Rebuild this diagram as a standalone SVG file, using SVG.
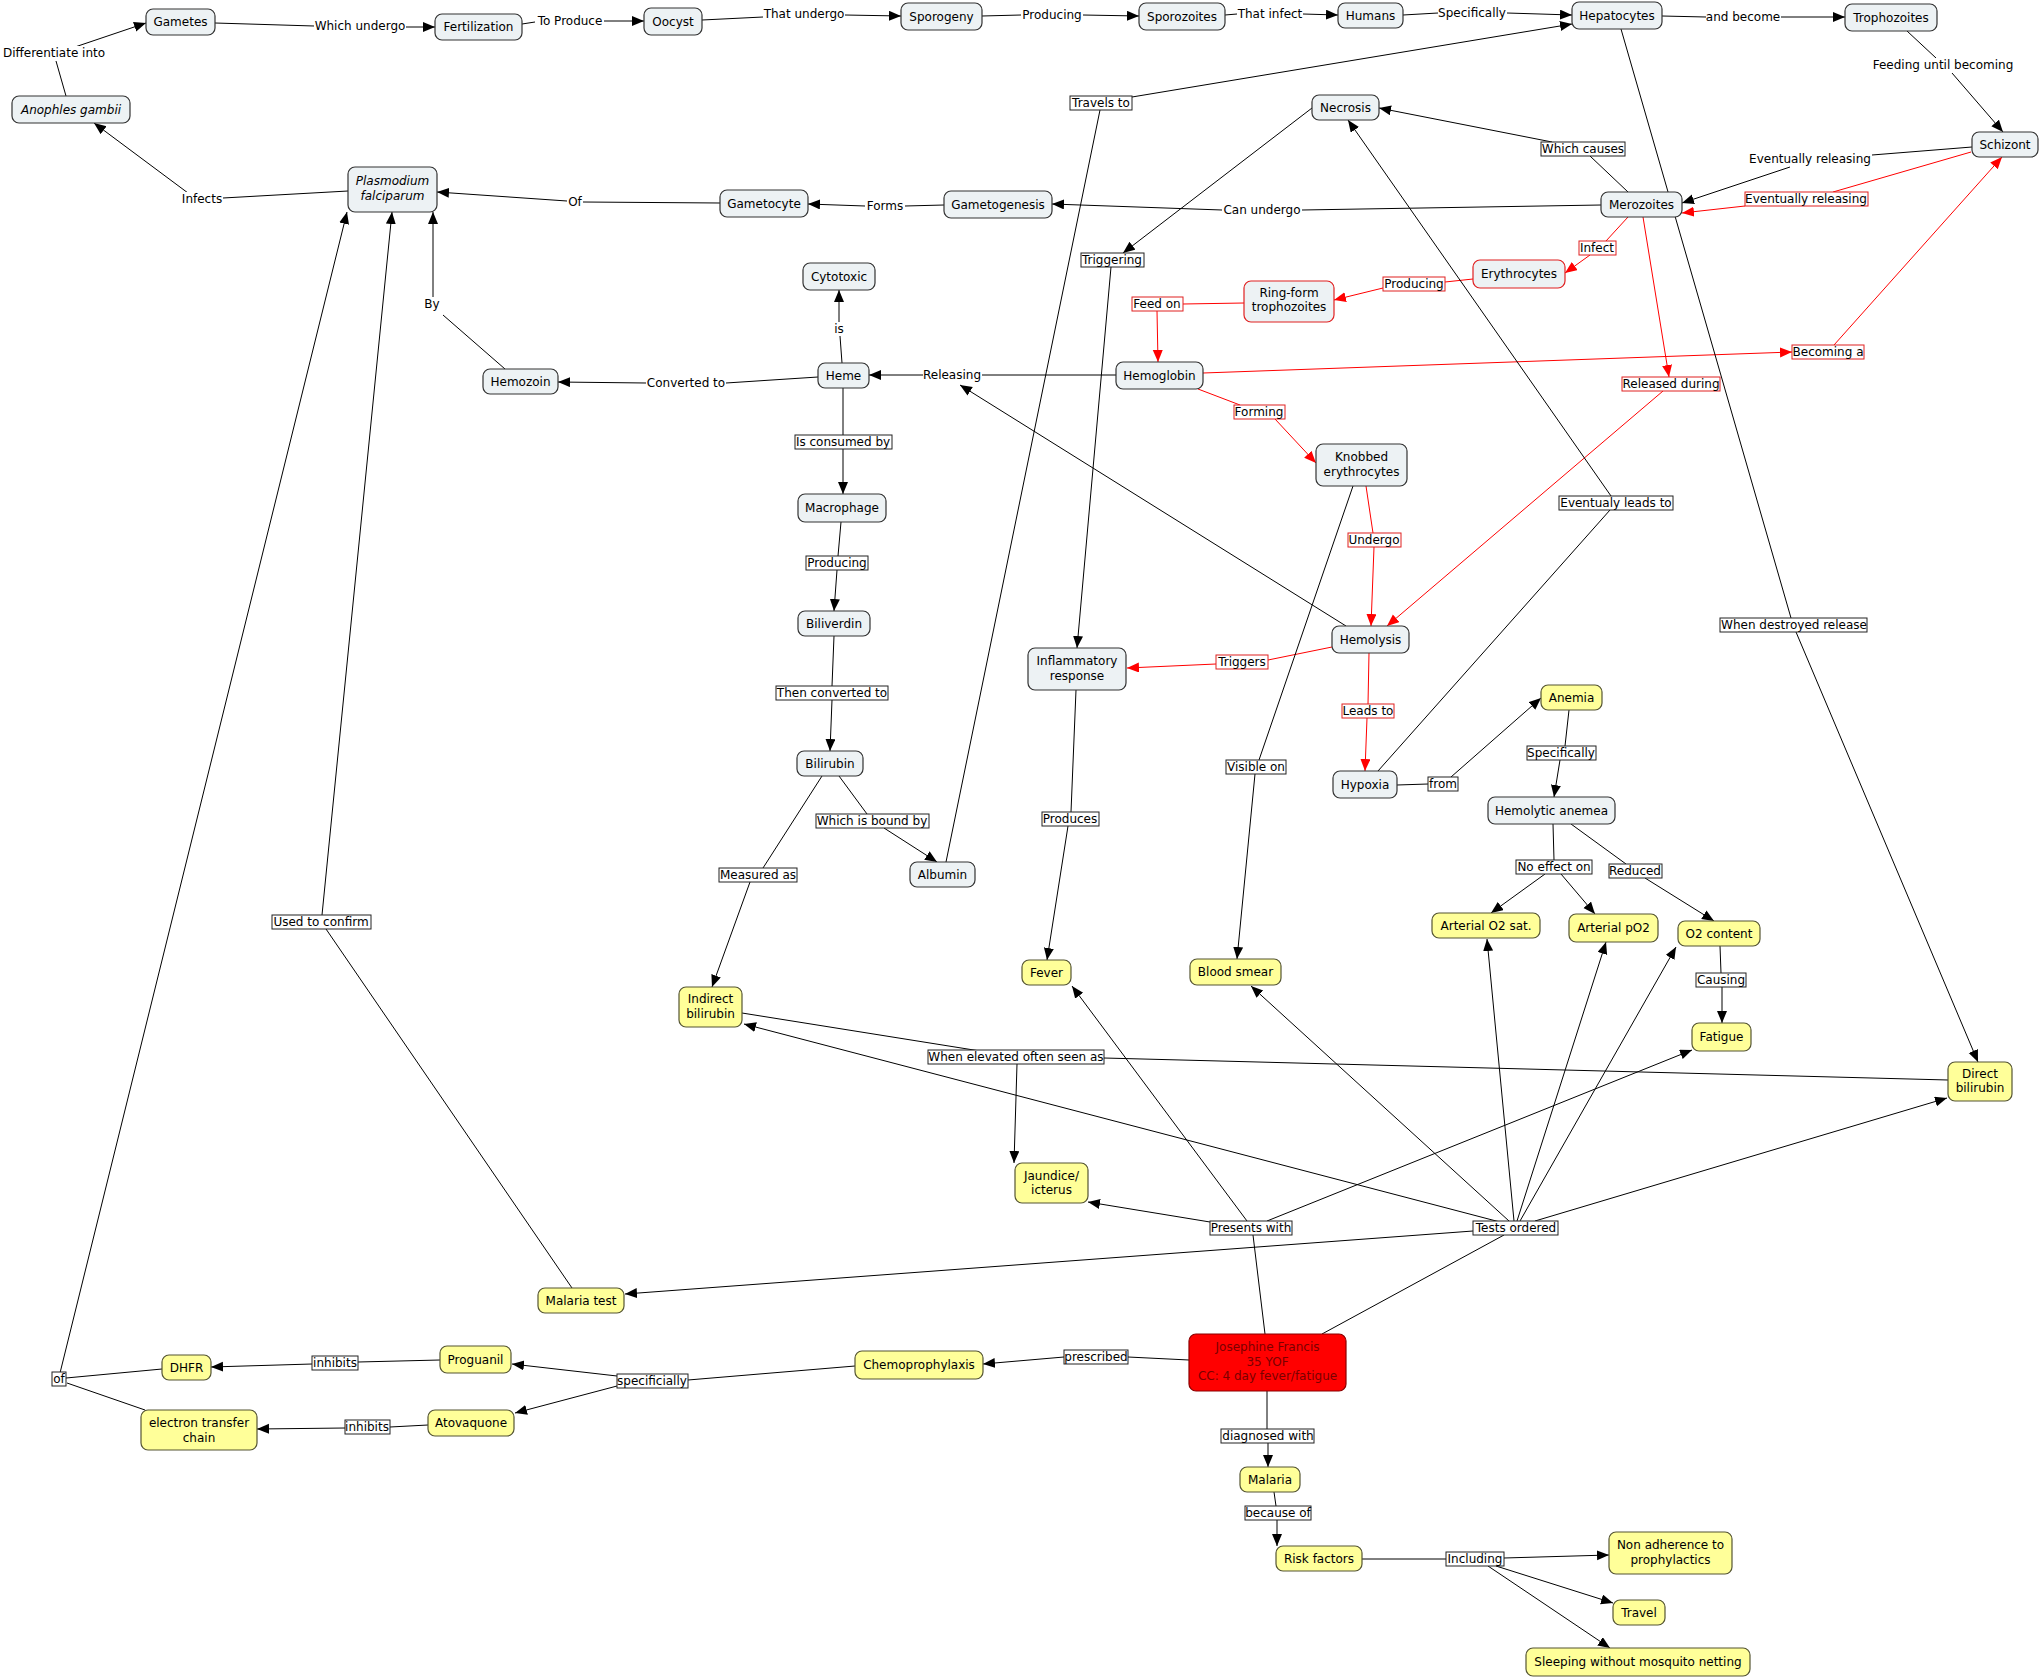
<svg xmlns="http://www.w3.org/2000/svg" width="2041" height="1677" viewBox="0 0 2041 1677">
<style>
text{font-family:"DejaVu Sans","Verdana",sans-serif;font-size:12px;fill:#000;text-anchor:middle}
.n rect{fill:#edf2f4;stroke:#333;stroke-width:1.2}
.rb rect{stroke:#e02020}
.y rect{fill:#ffff99;stroke:#555533;stroke-width:1.2}
.p rect{fill:#ff0000;stroke:#8a0000;stroke-width:1.2}
.p text{fill:#7a0000}
.it text{font-style:italic}
.e{stroke:#000;stroke-width:1;fill:none}
.r{stroke:#ff0000;stroke-width:1;fill:none}
.a{marker-end:url(#ab)}
.ar{marker-end:url(#ar)}
.lp rect{fill:#fff;stroke:none}
.lb rect{fill:#fff;stroke:#222;stroke-width:1}
.lr rect{fill:#fff;stroke:#e02020;stroke-width:1}
</style>
<defs>
<marker id="ab" markerUnits="userSpaceOnUse" markerWidth="13" markerHeight="11" refX="12" refY="5" orient="auto"><path d="M0,0 L12,5 L0,10 z" fill="#000"/></marker>
<marker id="ar" markerUnits="userSpaceOnUse" markerWidth="13" markerHeight="11" refX="12" refY="5" orient="auto"><path d="M0,0 L12,5 L0,10 z" fill="#ff0000"/></marker>
</defs>
<rect width="2041" height="1677" fill="#fff"/>

<g id="connectors">
<line class="e" x1="66" y1="96" x2="56" y2="61"/>
<line class="e a" x1="72" y1="48" x2="146" y2="23"/>
<line class="e" x1="215" y1="23" x2="314" y2="26"/>
<line class="e a" x1="406" y1="27" x2="435" y2="27"/>
<line class="e" x1="522" y1="24" x2="535" y2="22"/>
<line class="e a" x1="604" y1="21" x2="644" y2="21"/>
<line class="e" x1="702" y1="20" x2="763" y2="17"/>
<line class="e a" x1="845" y1="15" x2="901" y2="16"/>
<line class="e" x1="982" y1="16" x2="1021" y2="15"/>
<line class="e a" x1="1083" y1="15" x2="1139" y2="16"/>
<line class="e" x1="1225" y1="15" x2="1237" y2="14"/>
<line class="e a" x1="1303" y1="14" x2="1338" y2="15"/>
<line class="e" x1="1403" y1="15" x2="1438" y2="13"/>
<line class="e a" x1="1507" y1="13" x2="1572" y2="15"/>
<line class="e" x1="1662" y1="16" x2="1706" y2="17"/>
<line class="e a" x1="1781" y1="17" x2="1845" y2="17"/>
<line class="e" x1="1907" y1="31" x2="1936" y2="58"/>
<line class="e a" x1="1952" y1="73" x2="2003" y2="132"/>
<line class="e" x1="1972" y1="147" x2="1872" y2="155"/>
<line class="e a" x1="1790" y1="167" x2="1682" y2="203"/>
<line class="r" x1="1971" y1="152" x2="1833" y2="192"/>
<line class="r ar" x1="1745" y1="206" x2="1682" y2="213"/>
<line class="e" x1="1628" y1="192" x2="1590" y2="156"/>
<line class="e a" x1="1552" y1="142" x2="1379" y2="108"/>
<line class="e" x1="1601" y1="205" x2="1302" y2="210"/>
<line class="e a" x1="1222" y1="210" x2="1052" y2="204"/>
<line class="e" x1="944" y1="205" x2="905" y2="206"/>
<line class="e a" x1="865" y1="206" x2="808" y2="204"/>
<line class="e" x1="720" y1="203" x2="583" y2="202"/>
<line class="e a" x1="567" y1="201" x2="437" y2="192"/>
<line class="e" x1="348" y1="191" x2="223" y2="198"/>
<line class="e a" x1="188" y1="193" x2="94" y2="123"/>
<line class="e" x1="505" y1="369" x2="443" y2="315"/>
<line class="e a" x1="433" y1="297" x2="433" y2="212"/>
<line class="e" x1="818" y1="377" x2="726" y2="383"/>
<line class="e a" x1="646" y1="383" x2="558" y2="382"/>
<line class="e" x1="842" y1="363" x2="840" y2="336"/>
<line class="e a" x1="839" y1="322" x2="839" y2="290"/>
<line class="e" x1="1116" y1="375" x2="982" y2="375"/>
<line class="e a" x1="923" y1="375" x2="869" y2="375"/>
<line class="e a" x1="1346" y1="626" x2="960" y2="385"/>
<line class="e" x1="843" y1="388" x2="843" y2="435"/>
<line class="e a" x1="843" y1="449" x2="843" y2="494"/>
<line class="e" x1="841" y1="522" x2="838" y2="556"/>
<line class="e a" x1="837" y1="570" x2="834" y2="611"/>
<line class="e" x1="834" y1="636" x2="832" y2="686"/>
<line class="e a" x1="832" y1="700" x2="830" y2="751"/>
<line class="e" x1="839" y1="776" x2="867" y2="814"/>
<line class="e a" x1="884" y1="828" x2="937" y2="862"/>
<line class="e" x1="822" y1="776" x2="763" y2="868"/>
<line class="e a" x1="750" y1="882" x2="712" y2="987"/>
<line class="e" x1="946" y1="862" x2="1100" y2="110"/>
<line class="e a" x1="1132" y1="97" x2="1572" y2="24"/>
<line class="e a" x1="1312" y1="108" x2="1123" y2="253"/>
<line class="e a" x1="1111" y1="267" x2="1077" y2="648"/>
<line class="e" x1="1076" y1="690" x2="1071" y2="812"/>
<line class="e a" x1="1068" y1="826" x2="1047" y2="960"/>
<line class="r" x1="1473" y1="279" x2="1445" y2="282"/>
<line class="r ar" x1="1383" y1="288" x2="1334" y2="300"/>
<line class="r" x1="1244" y1="303" x2="1183" y2="304"/>
<line class="r ar" x1="1157" y1="311" x2="1158" y2="362"/>
<line class="r" x1="1628" y1="217" x2="1606" y2="241"/>
<line class="r ar" x1="1590" y1="255" x2="1565" y2="273"/>
<line class="r ar" x1="1643" y1="217" x2="1669" y2="377"/>
<line class="r ar" x1="1663" y1="391" x2="1387" y2="626"/>
<line class="r ar" x1="1203" y1="373" x2="1792" y2="352"/>
<line class="r ar" x1="1834" y1="345" x2="2002" y2="157"/>
<line class="r" x1="1198" y1="389" x2="1240" y2="405"/>
<line class="r ar" x1="1275" y1="419" x2="1316" y2="463"/>
<line class="r" x1="1366" y1="486" x2="1373" y2="533"/>
<line class="r ar" x1="1374" y1="547" x2="1371" y2="626"/>
<line class="r" x1="1332" y1="647" x2="1268" y2="660"/>
<line class="r ar" x1="1216" y1="664" x2="1127" y2="668"/>
<line class="r" x1="1369" y1="653" x2="1368" y2="704"/>
<line class="r ar" x1="1367" y1="718" x2="1365" y2="771"/>
<line class="e" x1="1353" y1="486" x2="1259" y2="760"/>
<line class="e a" x1="1255" y1="774" x2="1237" y2="959"/>
<line class="e" x1="1378" y1="771" x2="1610" y2="510"/>
<line class="e a" x1="1611" y1="496" x2="1348" y2="120"/>
<line class="e" x1="1397" y1="785" x2="1428" y2="784"/>
<line class="e a" x1="1451" y1="777" x2="1541" y2="698"/>
<line class="e" x1="1569" y1="710" x2="1565" y2="746"/>
<line class="e a" x1="1560" y1="760" x2="1554" y2="797"/>
<line class="e" x1="1553" y1="824" x2="1554" y2="860"/>
<line class="e a" x1="1545" y1="874" x2="1491" y2="913"/>
<line class="e a" x1="1561" y1="874" x2="1595" y2="914"/>
<line class="e" x1="1571" y1="824" x2="1626" y2="864"/>
<line class="e a" x1="1645" y1="878" x2="1714" y2="921"/>
<line class="e" x1="1720" y1="946" x2="1721" y2="973"/>
<line class="e a" x1="1722" y1="987" x2="1722" y2="1023"/>
<line class="e" x1="1621" y1="29" x2="1791" y2="618"/>
<line class="e a" x1="1796" y1="632" x2="1978" y2="1062"/>
<line class="e" x1="1948" y1="1080" x2="1104" y2="1058"/>
<line class="e" x1="742" y1="1013" x2="980" y2="1051"/>
<line class="e a" x1="1017" y1="1064" x2="1014" y2="1163"/>
<line class="e" x1="1265" y1="1334" x2="1253" y2="1235"/>
<line class="e a" x1="1210" y1="1222" x2="1088" y2="1202"/>
<line class="e a" x1="1247" y1="1221" x2="1072" y2="986"/>
<line class="e a" x1="1267" y1="1221" x2="1692" y2="1050"/>
<line class="e" x1="1322" y1="1334" x2="1504" y2="1235"/>
<line class="e a" x1="1514" y1="1221" x2="1487" y2="939"/>
<line class="e a" x1="1517" y1="1221" x2="1606" y2="942"/>
<line class="e a" x1="1520" y1="1221" x2="1676" y2="947"/>
<line class="e a" x1="1535" y1="1221" x2="1947" y2="1098"/>
<line class="e a" x1="1509" y1="1221" x2="1251" y2="986"/>
<line class="e a" x1="1500" y1="1222" x2="744" y2="1024"/>
<line class="e a" x1="1473" y1="1231" x2="625" y2="1294"/>
<line class="e" x1="572" y1="1288" x2="326" y2="929"/>
<line class="e a" x1="322" y1="915" x2="392" y2="212"/>
<line class="e a" x1="60" y1="1373" x2="347" y2="212"/>
<line class="e" x1="162" y1="1369" x2="66" y2="1378"/>
<line class="e" x1="145" y1="1410" x2="67" y2="1383"/>
<line class="e" x1="440" y1="1360" x2="358" y2="1362"/>
<line class="e a" x1="312" y1="1364" x2="211" y2="1367"/>
<line class="e" x1="428" y1="1425" x2="390" y2="1427"/>
<line class="e a" x1="345" y1="1428" x2="257" y2="1429"/>
<line class="e" x1="855" y1="1366" x2="688" y2="1380"/>
<line class="e a" x1="617" y1="1376" x2="512" y2="1364"/>
<line class="e a" x1="617" y1="1386" x2="515" y2="1413"/>
<line class="e" x1="1189" y1="1360" x2="1128" y2="1357"/>
<line class="e a" x1="1064" y1="1357" x2="983" y2="1364"/>
<line class="e" x1="1267" y1="1391" x2="1267" y2="1429"/>
<line class="e a" x1="1268" y1="1443" x2="1268" y2="1467"/>
<line class="e" x1="1274" y1="1492" x2="1276" y2="1506"/>
<line class="e a" x1="1277" y1="1520" x2="1277" y2="1546"/>
<line class="e" x1="1362" y1="1559" x2="1446" y2="1559"/>
<line class="e a" x1="1504" y1="1558" x2="1609" y2="1555"/>
<line class="e a" x1="1496" y1="1566" x2="1613" y2="1603"/>
<line class="e a" x1="1488" y1="1566" x2="1610" y2="1648"/>
</g>

<g id="link-labels">
<g class="lp"><rect x="3" y="46" width="102" height="14"/><text x="54" y="57">Differentiate into</text></g>
<g class="lp"><rect x="314" y="19" width="92" height="14"/><text x="360" y="30">Which undergo</text></g>
<g class="lp"><rect x="535" y="14" width="69" height="14"/><text x="570" y="25">To Produce</text></g>
<g class="lp"><rect x="763" y="7" width="82" height="14"/><text x="804" y="18">That undergo</text></g>
<g class="lp"><rect x="1021" y="8" width="62" height="14"/><text x="1052" y="19">Producing</text></g>
<g class="lp"><rect x="1237" y="7" width="66" height="14"/><text x="1270" y="18">That infect</text></g>
<g class="lp"><rect x="1438" y="6" width="69" height="14"/><text x="1472" y="17">Specifically</text></g>
<g class="lp"><rect x="1706" y="10" width="75" height="14"/><text x="1743" y="21">and become</text></g>
<g class="lp"><rect x="1873" y="58" width="141" height="14"/><text x="1943" y="69">Feeding until becoming</text></g>
<g class="lp"><rect x="1749" y="152" width="123" height="14"/><text x="1810" y="163">Eventually releasing</text></g>
<g class="lp"><rect x="181" y="192" width="42" height="14"/><text x="202" y="203">Infects</text></g>
<g class="lp"><rect x="567" y="195" width="16" height="14"/><text x="575" y="206">Of</text></g>
<g class="lp"><rect x="865" y="199" width="40" height="14"/><text x="885" y="210">Forms</text></g>
<g class="lp"><rect x="424" y="297" width="18" height="14"/><text x="432" y="308">By</text></g>
<g class="lp"><rect x="1222" y="203" width="80" height="14"/><text x="1262" y="214">Can undergo</text></g>
<g class="lp"><rect x="834" y="322" width="10" height="14"/><text x="839" y="333">is</text></g>
<g class="lp"><rect x="646" y="376" width="80" height="14"/><text x="686" y="387">Converted to</text></g>
<g class="lp"><rect x="923" y="368" width="59" height="14"/><text x="952" y="379">Releasing</text></g>

<g class="lb"><rect x="1070" y="96" width="62" height="14"/><text x="1101" y="107">Travels to</text></g>
<g class="lb"><rect x="1541" y="142" width="84" height="14"/><text x="1583" y="153">Which causes</text></g>
<g class="lb"><rect x="1081" y="253" width="63" height="14"/><text x="1112" y="264">Triggering</text></g>
<g class="lb"><rect x="1559" y="496" width="114" height="14"/><text x="1616" y="507">Eventualy leads to</text></g>
<g class="lb"><rect x="795" y="435" width="97" height="14"/><text x="843" y="446">Is consumed by</text></g>
<g class="lb"><rect x="806" y="556" width="62" height="14"/><text x="837" y="567">Producing</text></g>
<g class="lb"><rect x="776" y="686" width="112" height="14"/><text x="832" y="697">Then converted to</text></g>
<g class="lb"><rect x="816" y="814" width="113" height="14"/><text x="872" y="825">Which is bound by</text></g>
<g class="lb"><rect x="719" y="868" width="78" height="14"/><text x="758" y="879">Measured as</text></g>
<g class="lb"><rect x="1042" y="812" width="57" height="14"/><text x="1070" y="823">Produces</text></g>
<g class="lb"><rect x="1226" y="760" width="60" height="14"/><text x="1256" y="771">Visible on</text></g>
<g class="lb"><rect x="1720" y="618" width="147" height="14"/><text x="1794" y="629">When destroyed release</text></g>
<g class="lb"><rect x="1428" y="777" width="30" height="14"/><text x="1443" y="788">from</text></g>
<g class="lb"><rect x="1527" y="746" width="69" height="14"/><text x="1561" y="757">Specifically</text></g>
<g class="lb"><rect x="1516" y="860" width="76" height="14"/><text x="1554" y="871">No effect on</text></g>
<g class="lb"><rect x="1609" y="864" width="53" height="14"/><text x="1635" y="875">Reduced</text></g>
<g class="lb"><rect x="1696" y="973" width="50" height="14"/><text x="1721" y="984">Causing</text></g>
<g class="lb"><rect x="928" y="1050" width="176" height="14"/><text x="1016" y="1061">When elevated often seen as</text></g>
<g class="lb"><rect x="1210" y="1221" width="82" height="14"/><text x="1251" y="1232">Presents with</text></g>
<g class="lb"><rect x="1473" y="1221" width="85" height="14"/><text x="1516" y="1232">Tests ordered</text></g>
<g class="lb"><rect x="272" y="915" width="99" height="14"/><text x="321" y="926">Used to confirm</text></g>
<g class="lb"><rect x="52" y="1372" width="14" height="14"/><text x="59" y="1383">of</text></g>
<g class="lb"><rect x="312" y="1356" width="46" height="14"/><text x="335" y="1367">inhibits</text></g>
<g class="lb"><rect x="345" y="1420" width="45" height="14"/><text x="367" y="1431">inhibits</text></g>
<g class="lb"><rect x="617" y="1374" width="71" height="14"/><text x="652" y="1385">specificially</text></g>
<g class="lb"><rect x="1064" y="1350" width="64" height="14"/><text x="1096" y="1361">prescribed</text></g>
<g class="lb"><rect x="1221" y="1429" width="93" height="14"/><text x="1268" y="1440">diagnosed with</text></g>
<g class="lb"><rect x="1245" y="1506" width="66" height="14"/><text x="1278" y="1517">because of</text></g>
<g class="lb"><rect x="1446" y="1552" width="58" height="14"/><text x="1475" y="1563">Including</text></g>

<g class="lr"><rect x="1132" y="297" width="51" height="14"/><text x="1157" y="308">Feed on</text></g>
<g class="lr"><rect x="1383" y="277" width="62" height="14"/><text x="1414" y="288">Producing</text></g>
<g class="lr"><rect x="1579" y="241" width="37" height="14"/><text x="1597" y="252">Infect</text></g>
<g class="lr"><rect x="1745" y="192" width="123" height="14"/><text x="1806" y="203">Eventually releasing</text></g>
<g class="lr"><rect x="1792" y="345" width="72" height="14"/><text x="1828" y="356">Becoming a</text></g>
<g class="lr"><rect x="1622" y="377" width="98" height="14"/><text x="1671" y="388">Released during</text></g>
<g class="lr"><rect x="1234" y="405" width="51" height="14"/><text x="1259" y="416">Forming</text></g>
<g class="lr"><rect x="1348" y="533" width="53" height="14"/><text x="1374" y="544">Undergo</text></g>
<g class="lr"><rect x="1216" y="655" width="52" height="14"/><text x="1242" y="666">Triggers</text></g>
<g class="lr"><rect x="1342" y="704" width="52" height="14"/><text x="1368" y="715">Leads to</text></g>
</g>

<g id="nodes">
<g id="n-gametes" class="n"><rect x="146" y="9" width="69" height="26" rx="7"/><text x="180.5" y="26">Gametes</text></g>
<g id="n-fertilization" class="n"><rect x="435" y="14" width="87" height="26" rx="7"/><text x="478.5" y="31">Fertilization</text></g>
<g id="n-oocyst" class="n"><rect x="644" y="8" width="58" height="27" rx="7"/><text x="673" y="25.5">Oocyst</text></g>
<g id="n-sporogeny" class="n"><rect x="901" y="3" width="81" height="27" rx="7"/><text x="941.5" y="20.5">Sporogeny</text></g>
<g id="n-sporozoites" class="n"><rect x="1139" y="3" width="86" height="27" rx="7"/><text x="1182" y="20.5">Sporozoites</text></g>
<g id="n-humans" class="n"><rect x="1338" y="3" width="65" height="25" rx="7"/><text x="1370.5" y="19.5">Humans</text></g>
<g id="n-hepatocytes" class="n"><rect x="1572" y="2" width="90" height="27" rx="7"/><text x="1617" y="19.5">Hepatocytes</text></g>
<g id="n-trophozoites" class="n"><rect x="1845" y="4" width="92" height="27" rx="7"/><text x="1891" y="21.5">Trophozoites</text></g>
<g id="n-schizont" class="n"><rect x="1972" y="132" width="66" height="25" rx="7"/><text x="2005" y="148.5">Schizont</text></g>
<g id="n-merozoites" class="n"><rect x="1601" y="192" width="81" height="25" rx="7"/><text x="1641.5" y="208.5">Merozoites</text></g>
<g id="n-necrosis" class="n"><rect x="1312" y="95" width="67" height="25" rx="7"/><text x="1345.5" y="111.5">Necrosis</text></g>
<g id="n-anophles" class="n it"><rect x="12" y="96" width="118" height="27" rx="7"/><text x="71" y="113.5">Anophles gambii</text></g>
<g id="n-plasmodium" class="n it"><rect x="348" y="167" width="89" height="45" rx="7"/><text x="392.5" y="185">Plasmodium</text><text x="392.5" y="200">falciparum</text></g>
<g id="n-gametocyte" class="n"><rect x="720" y="190" width="88" height="27" rx="7"/><text x="764" y="207.5">Gametocyte</text></g>
<g id="n-gametogenesis" class="n"><rect x="944" y="191" width="108" height="27" rx="7"/><text x="998" y="208.5">Gametogenesis</text></g>
<g id="n-cytotoxic" class="n"><rect x="803" y="263" width="72" height="27" rx="7"/><text x="839" y="280.5">Cytotoxic</text></g>
<g id="n-heme" class="n"><rect x="818" y="363" width="51" height="25" rx="7"/><text x="843.5" y="379.5">Heme</text></g>
<g id="n-hemozoin" class="n"><rect x="483" y="369" width="75" height="25" rx="7"/><text x="520.5" y="385.5">Hemozoin</text></g>
<g id="n-hemoglobin" class="n"><rect x="1116" y="362" width="87" height="27" rx="7"/><text x="1159.5" y="379.5">Hemoglobin</text></g>
<g id="n-ringform" class="n rb"><rect x="1244" y="281" width="90" height="41" rx="7"/><text x="1289" y="297">Ring-form</text><text x="1289" y="311">trophozoites</text></g>
<g id="n-erythrocytes" class="n rb"><rect x="1473" y="260" width="92" height="28" rx="7"/><text x="1519" y="278">Erythrocytes</text></g>
<g id="n-knobbed" class="n"><rect x="1316" y="444" width="91" height="42" rx="7"/><text x="1361.5" y="461">Knobbed</text><text x="1361.5" y="476">erythrocytes</text></g>
<g id="n-hemolysis" class="n"><rect x="1332" y="626" width="77" height="27" rx="7"/><text x="1370.5" y="643.5">Hemolysis</text></g>
<g id="n-hypoxia" class="n"><rect x="1333" y="771" width="64" height="27" rx="7"/><text x="1365" y="788.5">Hypoxia</text></g>
<g id="n-hemolytic" class="n"><rect x="1488" y="797" width="127" height="27" rx="7"/><text x="1551.5" y="814.5">Hemolytic anemea</text></g>
<g id="n-macrophage" class="n"><rect x="798" y="494" width="88" height="28" rx="7"/><text x="842" y="512">Macrophage</text></g>
<g id="n-biliverdin" class="n"><rect x="798" y="611" width="72" height="25" rx="7"/><text x="834" y="627.5">Biliverdin</text></g>
<g id="n-bilirubin" class="n"><rect x="797" y="751" width="66" height="25" rx="7"/><text x="830" y="767.5">Bilirubin</text></g>
<g id="n-albumin" class="n"><rect x="910" y="862" width="65" height="25" rx="7"/><text x="942.5" y="878.5">Albumin</text></g>
<g id="n-inflammatory" class="n"><rect x="1028" y="648" width="98" height="42" rx="7"/><text x="1077" y="665">Inflammatory</text><text x="1077" y="680">response</text></g>

<g id="n-anemia" class="y"><rect x="1541" y="685" width="61" height="25" rx="7"/><text x="1571.5" y="701.5">Anemia</text></g>
<g id="n-ao2sat" class="y"><rect x="1432" y="913" width="108" height="25" rx="7"/><text x="1486" y="929.5">Arterial O2 sat.</text></g>
<g id="n-apo2" class="y"><rect x="1569" y="914" width="89" height="28" rx="7"/><text x="1613.5" y="932">Arterial pO2</text></g>
<g id="n-o2content" class="y"><rect x="1678" y="921" width="82" height="25" rx="7"/><text x="1719" y="937.5">O2 content</text></g>
<g id="n-fatigue" class="y"><rect x="1692" y="1023" width="59" height="28" rx="7"/><text x="1721.5" y="1041">Fatigue</text></g>
<g id="n-directbili" class="y"><rect x="1948" y="1062" width="64" height="39" rx="7"/><text x="1980" y="1078">Direct</text><text x="1980" y="1092">bilirubin</text></g>
<g id="n-fever" class="y"><rect x="1022" y="960" width="49" height="25" rx="7"/><text x="1046.5" y="976.5">Fever</text></g>
<g id="n-bloodsmear" class="y"><rect x="1190" y="959" width="91" height="26" rx="7"/><text x="1235.5" y="976">Blood smear</text></g>
<g id="n-indirectbili" class="y"><rect x="679" y="987" width="63" height="40" rx="7"/><text x="710.5" y="1003">Indirect</text><text x="710.5" y="1018">bilirubin</text></g>
<g id="n-jaundice" class="y"><rect x="1015" y="1163" width="73" height="40" rx="7"/><text x="1051.5" y="1180">Jaundice/</text><text x="1051.5" y="1194">icterus</text></g>
<g id="n-malariatest" class="y"><rect x="538" y="1288" width="86" height="25" rx="7"/><text x="581" y="1304.5">Malaria test</text></g>
<g id="n-dhfr" class="y"><rect x="162" y="1355" width="49" height="25" rx="7"/><text x="186.5" y="1371.5">DHFR</text></g>
<g id="n-proguanil" class="y"><rect x="440" y="1346" width="71" height="27" rx="7"/><text x="475.5" y="1363.5">Proguanil</text></g>
<g id="n-atovaquone" class="y"><rect x="428" y="1410" width="86" height="26" rx="7"/><text x="471" y="1427">Atovaquone</text></g>
<g id="n-etc" class="y"><rect x="141" y="1410" width="116" height="40" rx="7"/><text x="199" y="1427">electron transfer</text><text x="199" y="1442">chain</text></g>
<g id="n-chemo" class="y"><rect x="855" y="1351" width="128" height="28" rx="7"/><text x="919" y="1369">Chemoprophylaxis</text></g>
<g id="n-malaria" class="y"><rect x="1240" y="1467" width="60" height="25" rx="7"/><text x="1270" y="1483.5">Malaria</text></g>
<g id="n-risk" class="y"><rect x="1276" y="1546" width="86" height="25" rx="7"/><text x="1319" y="1562.5">Risk factors</text></g>
<g id="n-nonadherence" class="y"><rect x="1609" y="1532" width="123" height="42" rx="7"/><text x="1670.5" y="1549">Non adherence to</text><text x="1670.5" y="1564">prophylactics</text></g>
<g id="n-travel" class="y"><rect x="1613" y="1600" width="52" height="25" rx="7"/><text x="1639" y="1616.5">Travel</text></g>
<g id="n-sleeping" class="y"><rect x="1526" y="1648" width="224" height="28" rx="7"/><text x="1638" y="1666">Sleeping without mosquito netting</text></g>

<g id="n-patient" class="p"><rect x="1189" y="1334" width="157" height="57" rx="7"/><text x="1267.5" y="1351">Josephine Francis</text><text x="1267.5" y="1366">35 YOF</text><text x="1267.5" y="1380">CC: 4 day fever/fatigue</text></g>
</g>
</svg>
